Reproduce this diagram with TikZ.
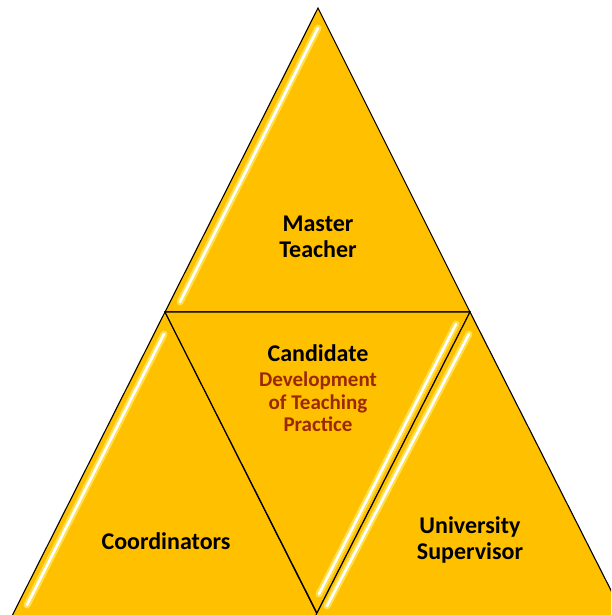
\documentclass[tikz,border=0pt]{standalone}
\usepackage{fontspec}
\setmainfont{Carlito}
\definecolor{gold}{RGB}{255,192,0}
\definecolor{rust}{RGB}{155,40,5}
\tikzset{
  tri/.style={fill=gold, draw=black, line width=1.1pt, line join=miter},
  glow/.style={line width=7pt, draw=yellow!45!white, opacity=0.55, line cap=round},
  shine/.style={line width=2.6pt, draw=white, line cap=round},
  lbl/.style={font=\bfseries\fontsize{24}{25.5}\selectfont, align=center, text=black},
  sublbl/.style={font=\bfseries\fontsize{21}{22.5}\selectfont, align=center, text=rust}
}
\newcommand{\streak}[2]{%
  \draw[glow] (#1) -- (#2);
  \draw[shine] (#1) -- (#2);}
\begin{document}
\begin{tikzpicture}[x=1pt,y=-1pt]
\useasboundingbox (0,0) rectangle (611,615);
\begin{scope}
\clip (0,0) rectangle (611,615);
% corner points shared by the four triangles
\coordinate (T1) at (318,8);
\coordinate (L1) at (165,312);
\coordinate (R1) at (470,312);
\coordinate (B1) at (317,613);
% top triangle
\path[tri] (T1) -- (L1) -- (R1) -- cycle;
\coordinate (s1a) at (318,28); \coordinate (s1b) at (180,302);
\streak{s1a}{s1b}
% left triangle
\path[tri] (L1) -- (10,620) -- (320,620) -- cycle;
\coordinate (s2a) at (164,334); \coordinate (s2b) at (27,605);
\streak{s2a}{s2b}
% middle, inverted triangle
\path[tri] (L1) -- (R1) -- (B1) -- cycle;
\coordinate (s3a) at (456,324); \coordinate (s3b) at (319,594);
\streak{s3a}{s3b}
% right triangle
\path[tri] (R1) -- (B1) -- (313.5,620) -- (626,620) -- cycle;
\coordinate (s4a) at (469,334); \coordinate (s4b) at (327,606);
\streak{s4a}{s4b}
\end{scope}
% labels
\node[lbl] (mt) at (318,237) {Master\\Teacher};
\node[lbl] (cand) at (318,353) {Candidate};
\node[sublbl] (dev) at (318,402) {Development\\of Teaching\\Practice};
\node[lbl] (coord) at (166,541) {Coordinators};
\node[lbl] (us) at (470,540) {University\\Supervisor};
\end{tikzpicture}
\end{document}
